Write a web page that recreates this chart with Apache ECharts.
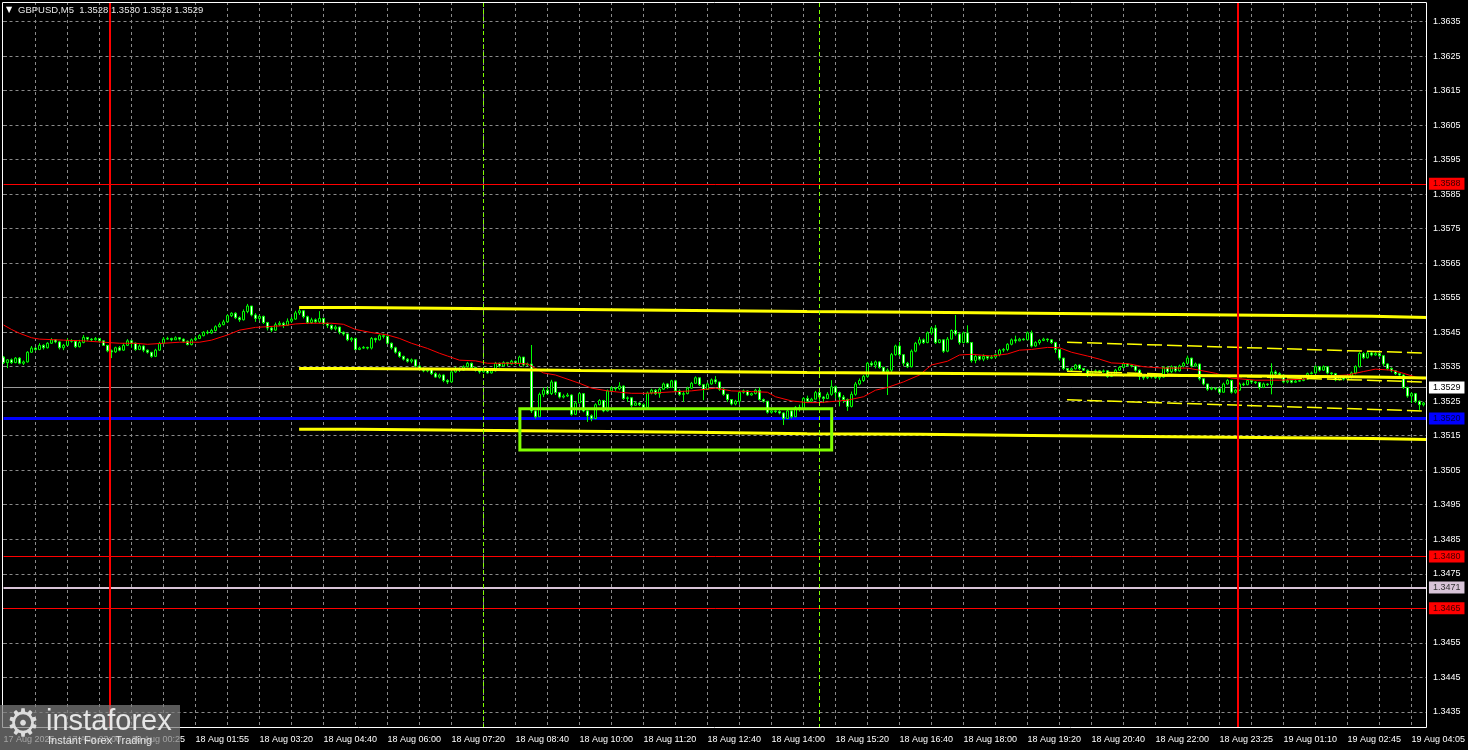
<!DOCTYPE html>
<html><head><meta charset="utf-8">
<script src="https://cdn.jsdelivr.net/npm/echarts@6/dist/echarts.min.js"></script>
<style>html,body{margin:0;padding:0;background:#000;overflow:hidden}#c{width:1468px;height:750px;}</style>
</head><body><div id="c"></div>
<script>
const chartTitle = 'GBPUSD,M5  1.3528 1.3530 1.3528 1.3529';
const timeLabels = ['17 Aug 2025','17 Aug 23:00','18 Aug 00:25','18 Aug 01:55','18 Aug 03:20','18 Aug 04:40','18 Aug 06:00','18 Aug 07:20','18 Aug 08:40','18 Aug 10:00','18 Aug 11:20','18 Aug 12:40','18 Aug 14:00','18 Aug 15:20','18 Aug 16:40','18 Aug 18:00','18 Aug 19:20','18 Aug 20:40','18 Aug 22:00','18 Aug 23:25','19 Aug 01:10','19 Aug 02:45','19 Aug 04:05'];
const priceTicks = [1.3435,1.3445,1.3455,1.3465,1.3475,1.3485,1.3495,1.3505,1.3515,1.3525,1.3535,1.3545,1.3555,1.3565,1.3575,1.3585,1.3595,1.3605,1.3615,1.3625,1.3635];
const firstOpen = 1.35378;
const closes = [
1.35362,1.35370,1.35362,1.35375,1.35360,1.35364,1.35392,1.35404,1.35400,1.35412,
1.35405,1.35418,1.35428,1.35422,1.35405,1.35412,1.35426,1.35424,1.35408,1.35420,
1.35435,1.35430,1.35428,1.35432,1.35425,1.35412,1.35396,1.35393,1.35405,1.35398,
1.35412,1.35425,1.35418,1.35400,1.35410,1.35398,1.35392,1.35380,1.35398,1.35418,
1.35430,1.35432,1.35428,1.35434,1.35430,1.35424,1.35414,1.35428,1.35432,1.35440,
1.35450,1.35448,1.35455,1.35466,1.35472,1.35480,1.35498,1.35505,1.35492,1.35486,
1.35510,1.35526,1.35500,1.35490,1.35496,1.35478,1.35462,1.35456,1.35472,1.35476,
1.35470,1.35482,1.35488,1.35506,1.35512,1.35495,1.35478,1.35486,1.35480,1.35490,
1.35475,1.35470,1.35460,1.35465,1.35450,1.35445,1.35428,1.35432,1.35400,1.35404,
1.35406,1.35404,1.35432,1.35428,1.35440,1.35438,1.35418,1.35405,1.35392,1.35380,
1.35372,1.35366,1.35370,1.35352,1.35345,1.35338,1.35342,1.35330,1.35320,1.35326,
1.35310,1.35306,1.35335,1.35345,1.35340,1.35350,1.35360,1.35348,1.35340,1.35335,
1.35340,1.35332,1.35338,1.35360,1.35352,1.35362,1.35358,1.35366,1.35360,1.35378,
1.35355,1.35358,1.35222,1.35205,1.35270,1.35282,1.35272,1.35306,1.35275,1.35262,
1.35265,1.35268,1.35212,1.35245,1.35272,1.35222,1.35208,1.35200,1.35240,1.35252,
1.35222,1.35280,1.35288,1.35286,1.35294,1.35258,1.35260,1.35238,1.35245,1.35240,
1.35232,1.35274,1.35282,1.35272,1.35285,1.35300,1.35290,1.35309,1.35280,1.35270,
1.35272,1.35288,1.35302,1.35318,1.35298,1.35284,1.35300,1.35312,1.35306,1.35285,
1.35270,1.35255,1.35242,1.35250,1.35276,1.35280,1.35268,1.35272,1.35282,1.35255,
1.35250,1.35218,1.35222,1.35220,1.35216,1.35200,1.35222,1.35205,1.35232,1.35226,
1.35258,1.35250,1.35256,1.35275,1.35262,1.35258,1.35270,1.35292,1.35275,1.35262,
1.35255,1.35235,1.35270,1.35300,1.35310,1.35322,1.35360,1.35355,1.35364,1.35348,
1.35335,1.35340,1.35385,1.35410,1.35385,1.35360,1.35350,1.35395,1.35418,1.35428,
1.35420,1.35448,1.35462,1.35420,1.35428,1.35395,1.35430,1.35455,1.35445,1.35420,
1.35448,1.35420,1.35368,1.35380,1.35372,1.35380,1.35375,1.35378,1.35385,1.35398,
1.35400,1.35415,1.35428,1.35425,1.35430,1.35428,1.35448,1.35410,1.35420,1.35426,
1.35430,1.35428,1.35420,1.35400,1.35375,1.35345,1.35340,1.35344,1.35355,1.35345,
1.35340,1.35325,1.35335,1.35338,1.35336,1.35338,1.35322,1.35328,1.35340,1.35348,
1.35358,1.35354,1.35352,1.35340,1.35322,1.35318,1.35320,1.35322,1.35318,1.35320,
1.35348,1.35336,1.35350,1.35338,1.35352,1.35360,1.35375,1.35352,1.35358,1.35315,
1.35300,1.35285,1.35288,1.35286,1.35276,1.35300,1.35310,1.35276,1.35282,1.35300,
1.35298,1.35310,1.35306,1.35304,1.35290,1.35300,1.35298,1.35335,1.35330,1.35326,
1.35306,1.35310,1.35305,1.35308,1.35310,1.35314,1.35330,1.35332,1.35350,1.35340,
1.35350,1.35332,1.35330,1.35312,1.35318,1.35314,1.35320,1.35332,1.35350,1.35388,
1.35376,1.35390,1.35384,1.35388,1.35382,1.35358,1.35345,1.35338,1.35330,1.35326,
1.35290,1.35265,1.35272,1.35250,1.35240,1.35245];
const highs = [
1.35381,1.35372,1.35374,1.35378,1.35378,1.35368,1.35395,1.35410,1.35407,1.35418,
1.35415,1.35421,1.35433,1.35430,1.35424,1.35416,1.35433,1.35430,1.35426,1.35428,
1.35442,1.35436,1.35433,1.35436,1.35433,1.35426,1.35413,1.35400,1.35408,1.35410,
1.35418,1.35430,1.35428,1.35420,1.35415,1.35412,1.35400,1.35392,1.35402,1.35422,
1.35436,1.35437,1.35434,1.35438,1.35436,1.35432,1.35426,1.35432,1.35438,1.35444,
1.35453,1.35456,1.35460,1.35470,1.35478,1.35486,1.35502,1.35508,1.35508,1.35496,
1.35516,1.35532,1.35526,1.35505,1.35500,1.35498,1.35480,1.35468,1.35478,1.35482,
1.35480,1.35490,1.35494,1.35512,1.35518,1.35514,1.35498,1.35492,1.35490,1.35511,
1.35492,1.35478,1.35472,1.35470,1.35466,1.35452,1.35446,1.35436,1.35434,1.35408,
1.35410,1.35408,1.35436,1.35434,1.35444,1.35446,1.35440,1.35420,1.35408,1.35395,
1.35382,1.35375,1.35374,1.35370,1.35355,1.35348,1.35346,1.35344,1.35334,1.35330,
1.35328,1.35314,1.35338,1.35350,1.35348,1.35354,1.35364,1.35362,1.35350,1.35342,
1.35344,1.35342,1.35342,1.35364,1.35362,1.35366,1.35364,1.35370,1.35368,1.35382,
1.35378,1.35362,1.35413,1.35225,1.35275,1.35290,1.35292,1.35312,1.35306,1.35275,
1.35270,1.35274,1.35270,1.35250,1.35276,1.35272,1.35224,1.35212,1.35244,1.35256,
1.35254,1.35284,1.35294,1.35292,1.35305,1.35296,1.35264,1.35262,1.35250,1.35246,
1.35244,1.35278,1.35286,1.35285,1.35290,1.35304,1.35302,1.35312,1.35312,1.35285,
1.35280,1.35292,1.35306,1.35322,1.35318,1.35300,1.35304,1.35316,1.35323,1.35306,
1.35288,1.35270,1.35256,1.35254,1.35280,1.35284,1.35282,1.35275,1.35286,1.35290,
1.35258,1.35250,1.35226,1.35224,1.35224,1.35218,1.35226,1.35224,1.35236,1.35240,
1.35262,1.35266,1.35260,1.35280,1.35278,1.35265,1.35276,1.35311,1.35295,1.35278,
1.35268,1.35258,1.35278,1.35306,1.35316,1.35326,1.35364,1.35366,1.35368,1.35366,
1.35350,1.35345,1.35390,1.35414,1.35422,1.35385,1.35364,1.35400,1.35422,1.35436,
1.35432,1.35452,1.35466,1.35471,1.35430,1.35428,1.35436,1.35458,1.35500,1.35450,
1.35452,1.35470,1.35420,1.35385,1.35382,1.35386,1.35382,1.35384,1.35388,1.35402,
1.35404,1.35418,1.35432,1.35440,1.35434,1.35433,1.35452,1.35455,1.35424,1.35430,
1.35434,1.35432,1.35430,1.35422,1.35400,1.35376,1.35346,1.35348,1.35358,1.35356,
1.35346,1.35342,1.35338,1.35342,1.35340,1.35342,1.35340,1.35332,1.35344,1.35352,
1.35362,1.35360,1.35358,1.35354,1.35342,1.35326,1.35324,1.35326,1.35324,1.35326,
1.35352,1.35352,1.35354,1.35352,1.35356,1.35364,1.35382,1.35376,1.35362,1.35358,
1.35316,1.35300,1.35292,1.35290,1.35290,1.35304,1.35314,1.35312,1.35286,1.35304,
1.35304,1.35314,1.35312,1.35308,1.35306,1.35304,1.35302,1.35360,1.35340,1.35334,
1.35326,1.35314,1.35312,1.35312,1.35313,1.35318,1.35333,1.35336,1.35354,1.35352,
1.35354,1.35350,1.35334,1.35332,1.35322,1.35320,1.35324,1.35336,1.35354,1.35392,
1.35392,1.35394,1.35394,1.35392,1.35390,1.35382,1.35360,1.35348,1.35340,1.35332,
1.35328,1.35292,1.35276,1.35274,1.35252,1.35248];
const lows = [
1.35358,1.35346,1.35358,1.35360,1.35357,1.35355,1.35362,1.35390,1.35396,1.35398,
1.35400,1.35403,1.35416,1.35418,1.35400,1.35398,1.35410,1.35420,1.35404,1.35406,
1.35418,1.35425,1.35424,1.35426,1.35420,1.35410,1.35392,1.35375,1.35390,1.35395,
1.35396,1.35410,1.35405,1.35396,1.35398,1.35392,1.35388,1.35376,1.35378,1.35396,
1.35415,1.35428,1.35424,1.35428,1.35426,1.35420,1.35412,1.35412,1.35426,1.35430,
1.35438,1.35444,1.35445,1.35452,1.35464,1.35470,1.35478,1.35494,1.35488,1.35480,
1.35484,1.35505,1.35496,1.35480,1.35484,1.35474,1.35455,1.35450,1.35454,1.35468,
1.35462,1.35468,1.35478,1.35486,1.35500,1.35490,1.35474,1.35474,1.35476,1.35476,
1.35470,1.35462,1.35456,1.35455,1.35444,1.35440,1.35424,1.35422,1.35398,1.35398,
1.35402,1.35400,1.35400,1.35420,1.35426,1.35432,1.35415,1.35400,1.35388,1.35376,
1.35368,1.35362,1.35360,1.35348,1.35340,1.35334,1.35334,1.35326,1.35318,1.35316,
1.35305,1.35300,1.35304,1.35332,1.35335,1.35338,1.35348,1.35344,1.35336,1.35330,
1.35332,1.35330,1.35330,1.35336,1.35348,1.35350,1.35352,1.35356,1.35355,1.35352,
1.35350,1.35352,1.35216,1.35200,1.35205,1.35262,1.35268,1.35268,1.35268,1.35258,
1.35258,1.35262,1.35208,1.35210,1.35245,1.35218,1.35190,1.35192,1.35198,1.35238,
1.35218,1.35220,1.35278,1.35280,1.35282,1.35254,1.35248,1.35232,1.35238,1.35236,
1.35228,1.35230,1.35270,1.35268,1.35260,1.35283,1.35286,1.35290,1.35276,1.35266,
1.35248,1.35270,1.35286,1.35300,1.35294,1.35253,1.35284,1.35298,1.35300,1.35280,
1.35266,1.35248,1.35238,1.35238,1.35240,1.35272,1.35265,1.35266,1.35270,1.35252,
1.35246,1.35214,1.35214,1.35216,1.35212,1.35181,1.35198,1.35200,1.35204,1.35220,
1.35224,1.35246,1.35248,1.35256,1.35250,1.35245,1.35256,1.35266,1.35258,1.35235,
1.35245,1.35222,1.35232,1.35266,1.35296,1.35306,1.35318,1.35350,1.35345,1.35344,
1.35330,1.35268,1.35335,1.35382,1.35380,1.35352,1.35346,1.35348,1.35392,1.35412,
1.35416,1.35418,1.35442,1.35416,1.35418,1.35390,1.35392,1.35430,1.35440,1.35414,
1.35418,1.35418,1.35362,1.35360,1.35368,1.35366,1.35370,1.35372,1.35374,1.35380,
1.35392,1.35395,1.35412,1.35418,1.35424,1.35426,1.35428,1.35406,1.35408,1.35414,
1.35424,1.35422,1.35416,1.35390,1.35368,1.35340,1.35336,1.35336,1.35342,1.35340,
1.35338,1.35320,1.35322,1.35332,1.35332,1.35333,1.35318,1.35320,1.35326,1.35338,
1.35346,1.35350,1.35348,1.35336,1.35312,1.35312,1.35314,1.35316,1.35314,1.35312,
1.35318,1.35332,1.35332,1.35334,1.35336,1.35348,1.35358,1.35348,1.35350,1.35310,
1.35296,1.35280,1.35282,1.35282,1.35272,1.35275,1.35298,1.35272,1.35272,1.35280,
1.35294,1.35296,1.35300,1.35300,1.35284,1.35288,1.35294,1.35270,1.35322,1.35320,
1.35302,1.35302,1.35302,1.35304,1.35306,1.35308,1.35312,1.35328,1.35330,1.35336,
1.35338,1.35328,1.35326,1.35308,1.35310,1.35310,1.35312,1.35316,1.35328,1.35348,
1.35372,1.35374,1.35380,1.35382,1.35378,1.35352,1.35340,1.35334,1.35326,1.35322,
1.35286,1.35260,1.35245,1.35245,1.35225,1.35235];
const maBars = [0,2,4,7,9,15,20,25,29,33,36,40,44,49,52,56,59,63,66,70,73,76,82,85,88,92,96,99,102,106,109,111,114,118,121,128,131,133,135,138,144,147,151,154,157,161,167,172,178,182,187,191,193,197,201,204,207,211,215,218,221,225,229,232,236,239,242,247,251,254,257,261,264,267,271,274,277,281,285,290,296,299,303,307,313,319,325,331,336,340,343,347,350,353,355];
const maValues = [1.35471,1.35458,1.35447,1.35434,1.35430,1.35427,1.35425,1.35421,1.35418,1.35418,1.35415,1.35418,1.35421,1.35421,1.35427,1.35442,1.35456,1.35464,1.35466,1.35469,1.35474,1.35476,1.35476,1.35473,1.35458,1.35449,1.35442,1.35432,1.35418,1.35403,1.35389,1.35381,1.35369,1.35367,1.35360,1.35360,1.35358,1.35345,1.35332,1.35326,1.35302,1.35288,1.35280,1.35276,1.35273,1.35273,1.35277,1.35280,1.35288,1.35280,1.35278,1.35276,1.35263,1.35251,1.35246,1.35246,1.35249,1.35253,1.35263,1.35282,1.35290,1.35306,1.35326,1.35355,1.35366,1.35384,1.35386,1.35381,1.35387,1.35398,1.35400,1.35406,1.35405,1.35392,1.35381,1.35372,1.35361,1.35359,1.35350,1.35346,1.35346,1.35340,1.35331,1.35317,1.35311,1.35311,1.35314,1.35323,1.35326,1.35336,1.35343,1.35340,1.35331,1.35320,1.35314];
const yellowBreaks = [73.9,87.9,116.1,144.4,172.6,200.9,228.9,257.1,285.6,313.9,342.1,355.9];
const yellowUpper = [1.35522,1.35519,1.35516,1.35513,1.35510,1.35508,1.35505,1.35502,1.35499,1.35496,1.35493,1.35493];
const yellowMiddle = [1.35345,1.35343,1.35339,1.35336,1.35333,1.35331,1.35329,1.35325,1.35323,1.35320,1.35317,1.35317];
const yellowLower = [1.35169,1.35166,1.35163,1.35160,1.35156,1.35154,1.35151,1.35148,1.35145,1.35142,1.35139,1.35139];
const channelBars = [265.9,354.6];
const channelUpper = [1.35421,1.35390];
const channelMiddle = [1.35337,1.35306];
const channelLower = [1.35254,1.35222];
const redLevels = [1.3588,1.3480,1.3465];
const blueLevel = 1.3520;
const bidLevel = 1.3529;
const pinkLevel = 1.3471;
const redVerticals = [26.6,308.6];
const limeVerticals = [120,204];
const boxBars = [129.1,207.05];
const boxPrices = [1.35228,1.35109];

const FONT = 'Liberation Sans, Arial, sans-serif';
const candles = closes.map((c,i)=>{
  const o = i===0 ? firstOpen : closes[i-1];
  return [i, o, c, Math.min(lows[i],o,c), Math.max(highs[i],o,c)];
});
const pairs = (xs, ys) => xs.map((x,i)=>[x, ys[i]]);
const gridStyle = {color:'#8a8a8a', width:1, type:[3,3]};
function levelItem(v, lineColor, width, bg, fg){
  return {yAxis:v, lineStyle:{color:lineColor, width:width, type:'solid'},
    label:{show:true, position:'end', distance:2, formatter: v.toFixed(4), backgroundColor:bg, color:fg,
      padding:[1,4,1,4], fontSize:9, fontFamily:FONT, lineHeight:10}};
}
const yellowLine = (ys) => ({type:'line', data:pairs(yellowBreaks, ys), step:'end', symbol:'none', z:6,
  lineStyle:{color:'#ffff00', width:3}, silent:true});
const chanLine = (ys) => ({type:'line', data:pairs(channelBars, ys), symbol:'none', z:6,
  lineStyle:{color:'#ffff00', width:1.5, type:[15,5]}, silent:true});

const chart = echarts.init(document.getElementById('c'), null, {renderer:'canvas'});
chart.setOption({
  backgroundColor:'#000',
  animation:false,
  textStyle:{fontFamily:FONT},
  grid:{left:3.5, right:41, top:2, bottom:22, show:false},
  xAxis:{type:'value', min:0, max:355.875, interval:8,
    axisLine:{show:false}, axisTick:{show:false},
    axisLabel:{color:'#ffffff', fontSize:9, fontFamily:FONT, align:'left', margin:7, showMaxLabel:false,
      formatter:(v)=> (v%16===0 && timeLabels[v/16]) ? timeLabels[v/16] : ''},
    splitLine:{show:true, showMinLine:false, showMaxLine:false, lineStyle:gridStyle}},
  yAxis:{type:'value', position:'right', min:1.34303, max:1.36407, scale:true,
    axisLine:{show:false},
    axisTick:{show:true, customValues:priceTicks, length:3, lineStyle:{color:'#ffffff'}},
    axisLabel:{customValues:priceTicks, color:'#ffffff', fontSize:9, fontFamily:FONT, margin:6,
      formatter:(v)=>v.toFixed(4)},
    splitLine:{show:false}},
  series:[
    {type:'line', data:[], silent:true, z:1,
      markLine:{silent:true, precision:6, symbol:['none','none'], z:1, animation:false, label:{show:false},
        lineStyle:gridStyle, data: priceTicks.map(v=>({yAxis:v}))}},
    {type:'line', data:[], silent:true, z:2,
      markLine:{silent:true, precision:6, symbol:['none','none'], z:2, animation:false,
        data:[
          levelItem(redLevels[0], '#ff0000', 1, '#ff0000', '#3a0000'),
          levelItem(redLevels[1], '#ff0000', 1, '#ff0000', '#3a0000'),
          levelItem(redLevels[2], '#ff0000', 1, '#ff0000', '#3a0000'),
          levelItem(pinkLevel, '#d8c4d8', 2, '#d8c4d8', '#333333'),
          levelItem(blueLevel, '#0000ff', 3, '#0000ff', '#000040'),
          levelItem(bidLevel, '#9a9a9a', 1, '#ffffff', '#000000')
        ]}},
    {type:'candlestick', data:candles, barWidth:3, z:3,
      itemStyle:{color:'#000000', color0:'#ffffff', borderColor:'#00ff00', borderColor0:'#00ff00', borderWidth:1}},
    {type:'line', data:pairs(maBars, maValues), symbol:'none', z:4, silent:true,
      lineStyle:{color:'#ff0000', width:1}},
    yellowLine(yellowUpper), yellowLine(yellowMiddle), yellowLine(yellowLower),
    chanLine(channelUpper), chanLine(channelMiddle), chanLine(channelLower),
    {type:'line', data:[], silent:true, z:7,
      markLine:{silent:true, precision:6, symbol:['none','none'], z:7, animation:false, label:{show:false},
        data:[
          {xAxis:redVerticals[0], lineStyle:{color:'#ff0000', width:2, type:'solid'}},
          {xAxis:redVerticals[1], lineStyle:{color:'#ff0000', width:2, type:'solid'}},
          {xAxis:limeVerticals[0], lineStyle:{color:'#7fff00', width:1, type:[4,3]}},
          {xAxis:limeVerticals[1], lineStyle:{color:'#7fff00', width:1, type:[4,3]}}
        ]},
      markArea:{silent:true, z:8, animation:false,
        itemStyle:{color:'rgba(0,0,0,0)', borderColor:'#80ff00', borderWidth:3},
        data:[[{xAxis:boxBars[0], yAxis:boxPrices[0]},{xAxis:boxBars[1], yAxis:boxPrices[1]}]]}}
  ],
  graphic:[
    {type:'rect', z:50, silent:true, shape:{x:2.5, y:2.5, width:1424, height:725},
      style:{fill:null, stroke:'#ffffff', lineWidth:1}},
    {type:'text', z:50, x:6, y:10, silent:true,
      style:{text:'\u25BC', font:'8px DejaVu Sans', fill:'#ffffff', verticalAlign:'middle'}},
    {type:'text', z:50, x:18, y:10, silent:true,
      style:{text:chartTitle, font:'9.5px Liberation Sans', fill:'#e8e8e8', verticalAlign:'middle'}},
    {type:'rect', z:60, silent:true, shape:{x:0, y:705, width:180, height:45},
      style:{fill:'rgba(125,125,125,0.72)'}},
    {type:'text', z:61, x:23, y:726, silent:true,
      style:{text:'\u2699', font:'38px DejaVu Sans', fill:'#dcdcdc', align:'center', verticalAlign:'middle'}},
    {type:'text', z:61, x:46, y:722, silent:true,
      style:{text:'instaforex', font:'29px Liberation Sans', fill:'#e6e6e6', verticalAlign:'middle'}},
    {type:'text', z:61, x:48, y:741, silent:true,
      style:{text:'Instant Forex Trading', font:'11px Liberation Sans', fill:'#e6e6e6', verticalAlign:'middle'}}
  ]
});
</script></body></html>
